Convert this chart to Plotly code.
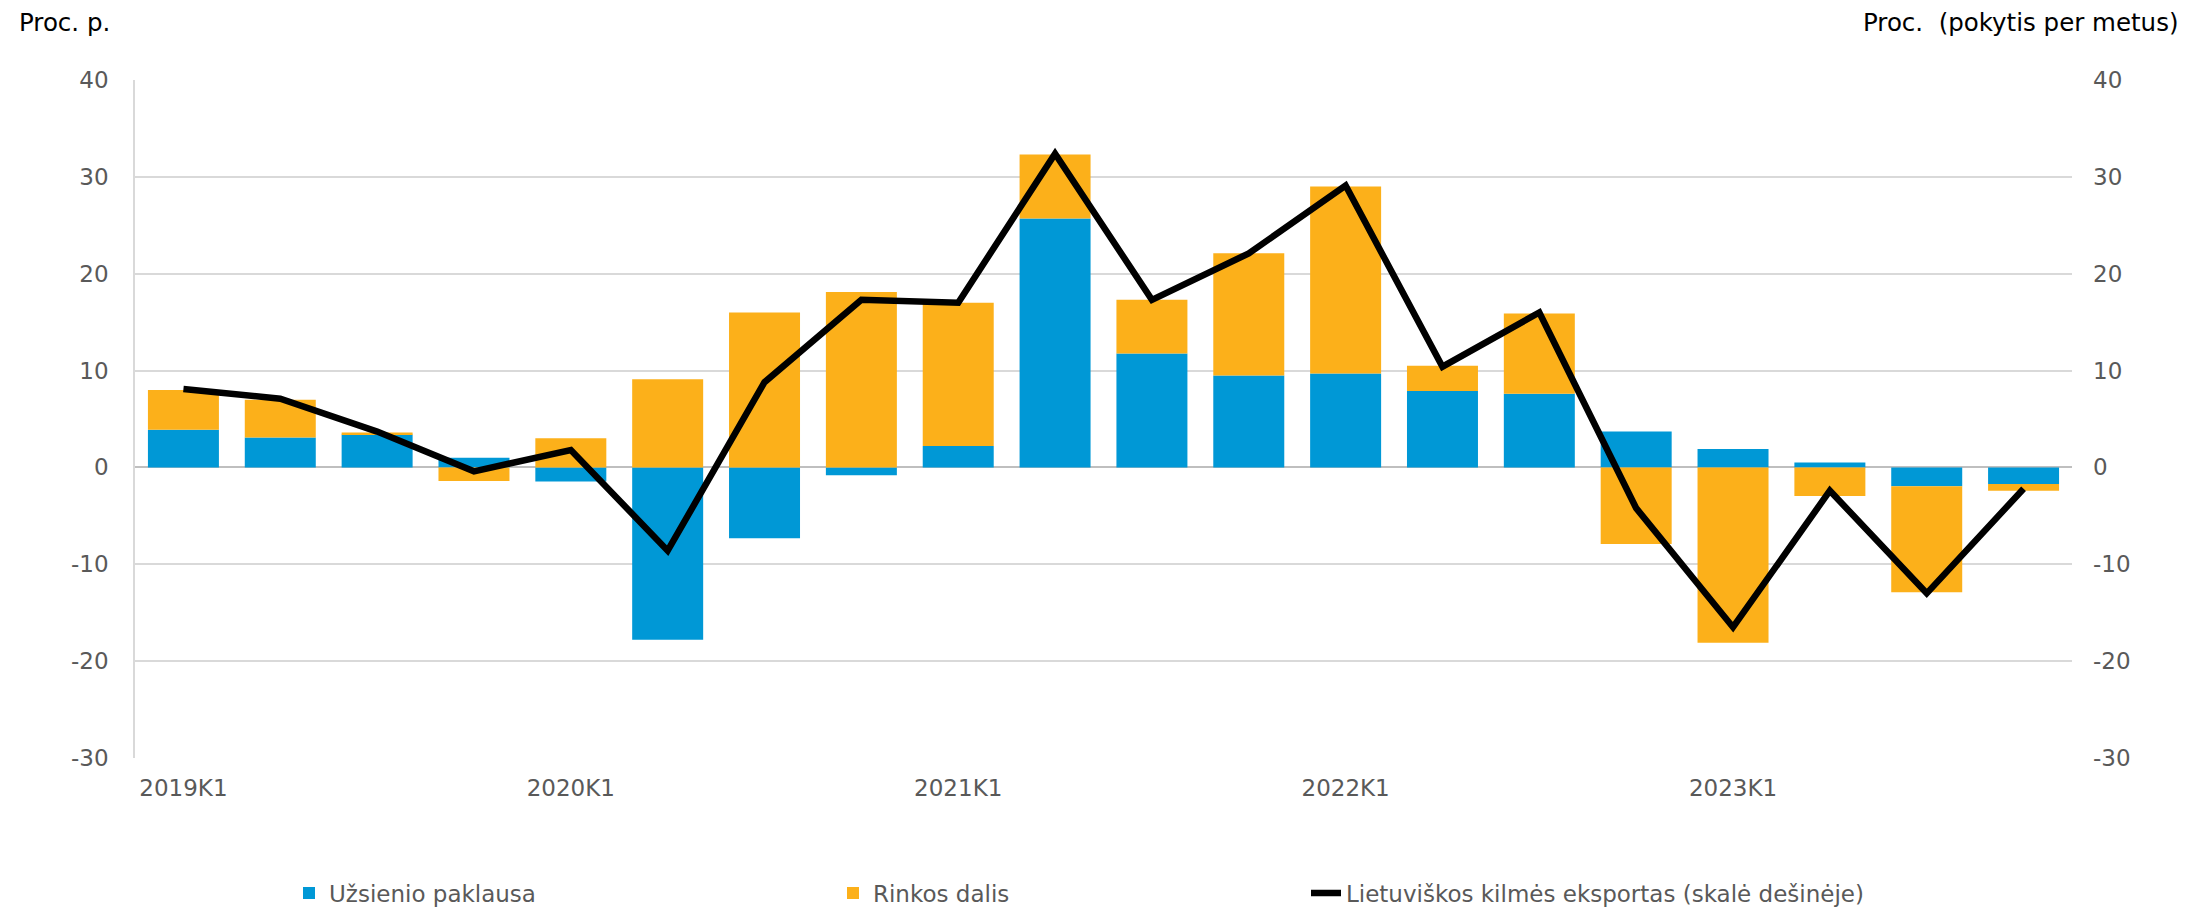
import plotly.graph_objects as go

categories = ["2019K1", "2019K2", "2019K3", "2019K4",
              "2020K1", "2020K2", "2020K3", "2020K4",
              "2021K1", "2021K2", "2021K3", "2021K4",
              "2022K1", "2022K2", "2022K3", "2022K4",
              "2023K1", "2023K2", "2023K3", "2023K4"]
foreign_demand = [3.9, 3.1, 3.4, 1.0, -1.45, -17.8, -7.3, -0.8, 2.2, 25.7,
                  11.75, 9.5, 9.7, 7.9, 7.6, 3.7, 1.9, 0.5, -1.95, -1.7]
market_share = [4.1, 3.9, 0.2, -1.4, 3.0, 9.1, 16.0, 18.1, 14.8, 6.6,
                5.55, 12.6, 19.3, 2.6, 8.3, -7.9, -18.1, -2.95, -10.95, -0.7]
lt_exports = [8.1, 7.1, 3.7, -0.4, 1.8, -8.6, 8.8, 17.3, 17.0, 32.4,
              17.3, 22.1, 29.1, 10.4, 16.0, -4.2, -16.5, -2.4, -13.0, -2.2]
tick_labels = ["2019K1", "2020K1", "2021K1", "2022K1", "2023K1"]
y_ticks = [-30, -20, -10, 0, 10, 20, 30, 40]
y_tick_text = ["-30", "-20", "-10", "0", "10", "20", "30", "40"]

BLUE = "#0098D6"
ORANGE = "#FCB01A"
FONT = "DejaVu Sans, Verdana, sans-serif"
GRAY = "#595959"

L, R, T, B = 135, 116, 80, 151
W, H = 2188, 909
PW, PH = W - L - R, H - T - B

fig = go.Figure()
fig.add_trace(go.Bar(x=categories, y=foreign_demand, name="Užsienio paklausa",
                     marker=dict(color=BLUE, line=dict(width=0)), legend="legend"))
fig.add_trace(go.Bar(x=categories, y=market_share, name="Rinkos dalis",
                     marker=dict(color=ORANGE, line=dict(width=0)), legend="legend2"))
fig.add_trace(go.Scatter(x=categories, y=lt_exports, yaxis="y2", mode="lines",
                         name="Lietuviškos kilmės eksportas (skalė dešinėje)",
                         line=dict(color="black", width=6.5), legend="legend3"))

legend_y = (T + PH - 893) / PH
legend_common = dict(orientation="h", yref="paper", xref="paper",
                     y=legend_y, yanchor="middle", xanchor="left",
                     font=dict(family=FONT, size=23, color=GRAY),
                     bgcolor="rgba(0,0,0,0)")

fig.update_layout(
    width=W, height=H, showlegend=True,
    margin=dict(l=L, r=R, t=T, b=B, autoexpand=False),
    paper_bgcolor="white", plot_bgcolor="rgba(0,0,0,0)",
    barmode="relative", bargap=0.267,
    font=dict(family=FONT, size=23, color=GRAY),
    legend=dict(x=(289 - L) / PW, **legend_common),
    legend2=dict(x=(833 - L) / PW, **legend_common),
    legend3=dict(x=(1306 - L) / PW, **legend_common),
    xaxis=dict(type="category", tickvals=tick_labels, ticktext=tick_labels,
               showgrid=False, showline=False, ticks="", ticklabelstandoff=14,
               automargin=False,
               tickfont=dict(family=FONT, size=23, color=GRAY)),
    yaxis=dict(range=[-30, 40], tickvals=y_ticks, ticktext=y_tick_text,
               showgrid=True, gridcolor="#D9D9D9", gridwidth=1.5, zeroline=True,
               zerolinecolor="#BFBFBF", zerolinewidth=2,
               showline=True, linecolor="#D9D9D9", linewidth=1.5,
               ticks="", ticklabelstandoff=20, automargin=False,
               tickfont=dict(family=FONT, size=23, color=GRAY)),
    yaxis2=dict(range=[-30, 40], tickvals=y_ticks, ticktext=y_tick_text,
                overlaying="y", side="right",
                showgrid=False, zeroline=False, showline=False, ticks="",
                ticklabelstandoff=20, automargin=False,
                tickfont=dict(family=FONT, size=23, color=GRAY)),
    annotations=[
        dict(text="Proc. p.", xref="paper", yref="paper", x=(17 - L) / PW,
             y=(T + PH - 22) / PH, xanchor="left", yanchor="middle", showarrow=False,
             font=dict(family=FONT, size=24.5, color="black")),
        dict(text="Proc.  (pokytis per metus)", xref="paper", yref="paper",
             x=(2180 - L) / PW, y=(T + PH - 22) / PH, xanchor="right",
             yanchor="middle", showarrow=False,
             font=dict(family=FONT, size=24.5, color="black")),
    ],
)

fig.write_html("out.html", config={"displayModeBar": False},
               post_script="document.body.style.margin='0';document.body.style.overflow='hidden';")
